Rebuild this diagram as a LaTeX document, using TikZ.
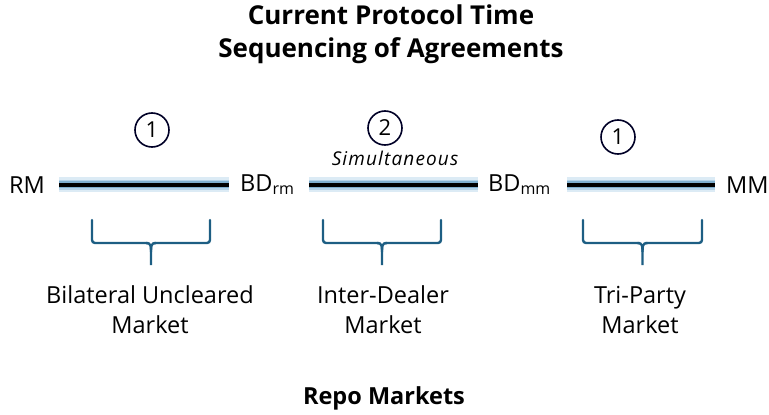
\documentclass[tikz,border=0pt]{standalone}
\usepackage{fontspec}
\setmainfont{Open Sans}
\begin{document}
\begin{tikzpicture}[x=1pt,y=-1pt,
  lbl/.style={font=\fontsize{23.5}{24}\selectfont, inner sep=0pt, text=black},
  ttl/.style={font=\fontsize{26}{33}\selectfont\bfseries, inner sep=0pt, align=center},
  num/.style={circle, draw=black!85!blue, line width=1.6pt, minimum size=34pt, inner sep=0pt, font=\fontsize{22}{24}\selectfont},
  brc/.style={draw=bracecol, line width=2.4pt, rounded corners=3pt, line cap=round},
  mkt/.style={font=\fontsize{23.5}{30}\selectfont, align=center, inner sep=0pt}
]
\definecolor{bracecol}{HTML}{1D5E83}
\definecolor{glowA}{HTML}{DCEBF5}
\definecolor{glowB}{HTML}{B5D3E8}
\definecolor{glowC}{HTML}{7FAFCF}
\useasboundingbox (0,0) rectangle (769,415);
% title
\node[ttl] (title) at (391,34) {Current Protocol Time\\Sequencing of Agreements};
% parties
\node[lbl, anchor=west] (rm) at (9,185) {RM};
\node[lbl, anchor=west] (bdrm) at (240,185) {BD{\fontsize{16}{16}\selectfont\raisebox{-3pt}{rm}}};
\node[lbl, anchor=west] (bdmm) at (488,185) {BD{\fontsize{16}{16}\selectfont\raisebox{-3pt}{mm}}};
\node[lbl, anchor=west] (mm) at (726,185) {MM};
% bars
\foreach \a/\b in {59/229, 309/478, 567/715}{
  \draw[glowA, line width=15pt] (\a,184.5) -- (\b,184.5);
  \draw[glowB, line width=10pt] (\a,184.5) -- (\b,184.5);
  \draw[glowC, line width=7pt] (\a,184.5) -- (\b,184.5);
  \draw[black, line width=4pt] (\a,184.5) -- (\b,184.5);
}
% circles
\node[num] (c1) at (152,130) {1};
\node[num] (c2) at (385,128) {2};
\node[num] (c3) at (618,137) {1};
\node[font=\fontsize{19}{20}\selectfont\itshape, inner sep=0pt] (sim) at (395,158) {\addfontfeature{LetterSpace=6}Simultaneous};
% braces
\foreach \a/\b in {92/210, 323/441, 583/702}{
  \pgfmathsetmacro{\m}{(\a+\b)/2}
  \draw[brc] (\a,220) -- (\a,243) -- (\m-3,243);
  \draw[brc] (\b,220) -- (\b,243) -- (\m+3,243);
  \draw[draw=bracecol, line width=2.4pt] (\m-5,243) .. controls (\m,243) and (\m,246) .. (\m,252) -- (\m,265);
  \draw[draw=bracecol, line width=2.4pt] (\m+5,243) .. controls (\m,243) and (\m,246) .. (\m,252);
}
% market labels
\node[mkt] (m1) at (150,310) {Bilateral Uncleared\\Market};
\node[mkt] (m2) at (383,310) {Inter-Dealer\\Market};
\node[mkt] (m3) at (640,310) {Tri-Party\\Market};
\node[font=\fontsize{23.5}{24}\selectfont\bfseries, inner sep=0pt] (repo) at (384,398) {Repo Markets};
\end{tikzpicture}
\end{document}
